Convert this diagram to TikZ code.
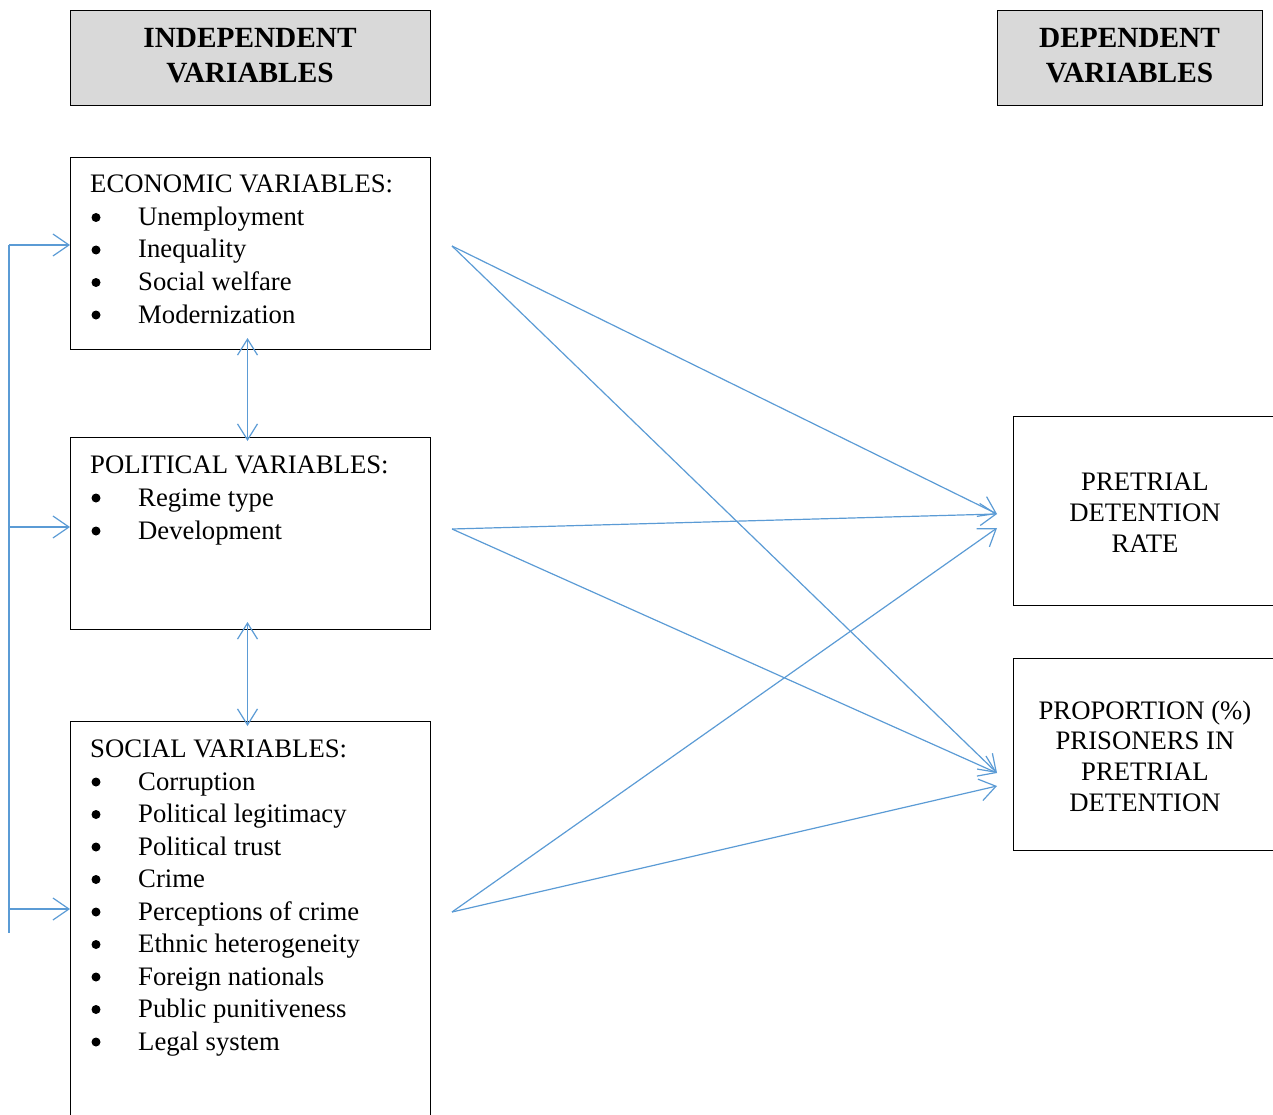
\documentclass[tikz,border=0pt]{standalone}
\usepackage{fontspec}
\setmainfont{Liberation Serif}
\usetikzlibrary{arrows.meta}
\definecolor{linkblue}{HTML}{5B9BD5}
\definecolor{hdrgray}{HTML}{D9D9D9}
\begin{document}
\begin{tikzpicture}[x=1pt,y=-1pt,
  box/.style={draw=black,line width=1pt,anchor=north west,inner sep=0pt},
  hdrbox/.style={box,fill=hdrgray},
  hdrtxt/.style={font=\fontsize{29.3}{35}\selectfont\bfseries,anchor=base,inner sep=0pt},
  txt/.style={font=\fontsize{26.7}{32}\selectfont,anchor=base west,inner sep=0pt},
  ctxt/.style={font=\fontsize{26.7}{32}\selectfont,anchor=base,inner sep=0pt},
  bul/.style={circle,fill=black,inner sep=0pt,minimum size=9pt},
  link/.style={draw=linkblue,line width=1.2pt,-{Straight Barb[length=16pt,width=22pt]}},
  blink/.style={draw=linkblue,line width=1.2pt,{Straight Barb[length=16pt,width=20pt]}-{Straight Barb[length=16pt,width=20pt]}},
  plain/.style={draw=linkblue,line width=1.2pt}]
\useasboundingbox (0,0) rectangle (1273,1115);
\clip (0,0) rectangle (1273,1115);

% header boxes
\node[hdrbox,minimum width=360pt,minimum height=95pt] (indep) at (70,10) {};
\node[hdrtxt] (indepA) at (250,48) {INDEPENDENT};
\node[hdrtxt] (indepB) at (250,83) {VARIABLES};
\node[hdrbox,minimum width=265pt,minimum height=95pt] (dep) at (997,10) {};
\node[hdrtxt] (depA) at (1129.5,48) {DEPENDENT};
\node[hdrtxt] (depB) at (1129.5,83) {VARIABLES};

% economic
\node[box,minimum width=360pt,minimum height=192pt] (econ) at (70,157) {};
\node[txt] (econT) at (90,193) {ECONOMIC VARIABLES:};
\foreach \t [count=\i] in {Unemployment,Inequality,Social welfare,Modernization}{
  \node[txt] (econ\i) at (138,193+\i*32.5) {\t};
  \node[bul] (econb\i) at (96,185+\i*32.5) {};
}

% political
\node[box,minimum width=360pt,minimum height=192pt] (pol) at (70,437) {};
\node[txt] (polT) at (90,473) {POLITICAL VARIABLES:};
\foreach \t [count=\i] in {Regime type,Development}{
  \node[txt] (pol\i) at (138,473+\i*33) {\t};
  \node[bul] (polb\i) at (96,465+\i*33) {};
}

% social
\node[box,minimum width=360pt,minimum height=450pt] (soc) at (70,721) {};
\node[txt] (socT) at (90,757.5) {SOCIAL VARIABLES:};
\foreach \t [count=\i] in {Corruption,Political legitimacy,Political trust,Crime,Perceptions of crime,Ethnic heterogeneity,Foreign nationals,Public punitiveness,Legal system}{
  \node[txt] (soc\i) at (138,757.5+\i*32.5) {\t};
  \node[bul] (socb\i) at (96,749.5+\i*32.5) {};
}

% dependent boxes
\node[box,minimum width=300pt,minimum height=189pt] (pret) at (1013,416) {};
\node[ctxt] (pretA) at (1145,490) {PRETRIAL};
\node[ctxt] (pretB) at (1145,521) {DETENTION};
\node[ctxt] (pretC) at (1145,552) {RATE};
\node[box,minimum width=300pt,minimum height=192pt] (prop) at (1013,658) {};
\node[ctxt] (propA) at (1145,719) {PROPORTION (\%)};
\node[ctxt] (propB) at (1145,749.5) {PRISONERS IN};
\node[ctxt] (propC) at (1145,780) {PRETRIAL};
\node[ctxt] (propD) at (1145,811) {DETENTION};

% left feedback bracket
\coordinate (L1) at (9,245);
\coordinate (L2) at (9,527);
\coordinate (L3) at (9,909);
\coordinate (L4) at (9,933);
\draw[plain] (L1) -- (L4);
\draw[link] (L1) -- (L1 -| econ.west);
\draw[link] (L2) -- (L2 -| pol.west);
\draw[link] (L3) -- (L3 -| soc.west);

% vertical double arrows
\draw[blink] ([xshift=-3pt,yshift=12pt]econ.south) -- ([xshift=-3pt,yshift=-4pt]pol.north);
\draw[blink] ([xshift=-3pt,yshift=8pt]pol.south) -- ([xshift=-3pt,yshift=-5pt]soc.north);

% diagonal links
\coordinate (E) at (452,246);
\coordinate (P) at (452,529);
\coordinate (S) at (452,912);
\coordinate (T1) at (997,514);
\coordinate (T2) at (997,528);
\coordinate (U1) at (997,773);
\coordinate (U2) at (997,786);
\draw[link] (E) -- (T1);
\draw[link] (E) -- (U1);
\draw[link] (P) -- (T1);
\draw[link] (P) -- (U1);
\draw[link] (S) -- (T2);
\draw[link] (S) -- (U2);
\end{tikzpicture}
\end{document}
